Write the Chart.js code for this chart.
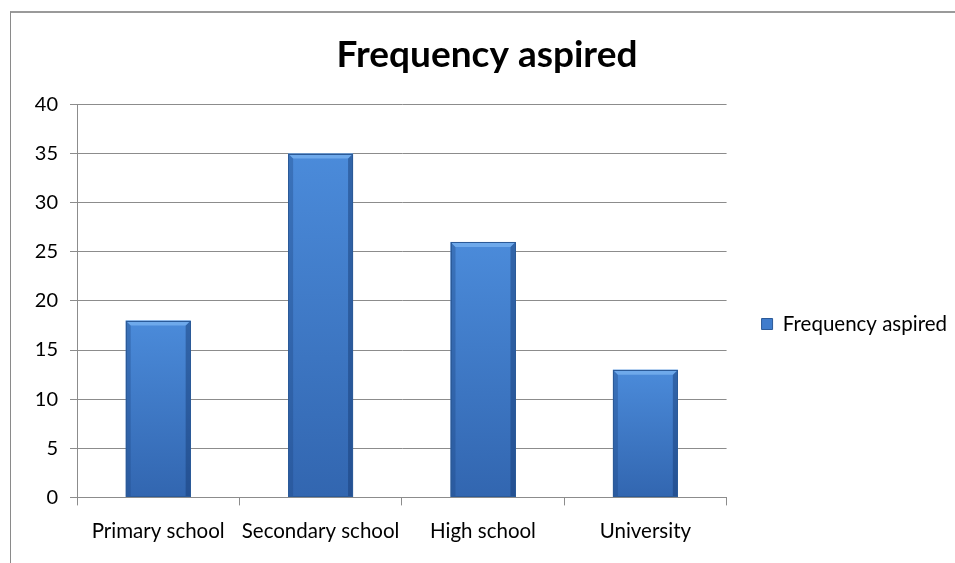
<!DOCTYPE html>
<html>
<head>
<meta charset="utf-8">
<script src="https://cdn.jsdelivr.net/npm/chart.js@4/dist/chart.umd.min.js"></script>
<style>
  html, body { margin: 0; padding: 0; background: #fff; overflow: hidden; }
  #wrap { position: relative; width: 955px; height: 563px; }
  #frame { position: absolute; left: 10px; top: 11px; width: 960px; height: 600px;
           border-left: 1px solid #8a8a8a; border-top: 2px solid #9a9a9a; box-sizing: border-box; }
  canvas { position: absolute; left: 0; top: 0; }
</style>
</head>
<body>
<div id="wrap">
  <div id="frame"></div>
  <canvas id="chart" width="955" height="563"></canvas>
</div>
<script>
const categories = ['Primary school', 'Secondary school', 'High school', 'University'];
const seriesName = 'Frequency aspired';
const values = [18, 35, 26, 13];
const yTicks = [0, 5, 10, 15, 20, 25, 30, 35, 40];

const FONT = 'Lato, "Open Sans", sans-serif';

// Bevelled column look: shading strips drawn over each bar element
const bevelPlugin = {
  id: 'bevel',
  afterDatasetsDraw(chart) {
    const ctx = chart.ctx;
    chart.getDatasetMeta(0).data.forEach(bar => {
      const { x, y, base, width } = bar.getProps(['x', 'y', 'base', 'width'], true);
      const l = x - width / 2, r = x + width / 2, t = y, b = base;
      const e = 5;
      ctx.save();
      // body shading
      const g = ctx.createLinearGradient(0, t, 0, b);
      g.addColorStop(0, '#4b8bda');
      g.addColorStop(1, '#3266b0');
      ctx.fillStyle = g;
      ctx.fillRect(l, t, width, b - t);
      // left edge
      ctx.fillStyle = 'rgba(30,70,130,0.35)';
      ctx.beginPath();
      ctx.moveTo(l, t); ctx.lineTo(l + e, t + e); ctx.lineTo(l + e, b); ctx.lineTo(l, b); ctx.closePath();
      ctx.fill();
      // right edge
      ctx.fillStyle = 'rgba(20,55,110,0.45)';
      ctx.beginPath();
      ctx.moveTo(r, t); ctx.lineTo(r - e, t + e); ctx.lineTo(r - e, b); ctx.lineTo(r, b); ctx.closePath();
      ctx.fill();
      // top edge highlight
      ctx.fillStyle = 'rgba(140,195,250,0.55)';
      ctx.beginPath();
      ctx.moveTo(l, t); ctx.lineTo(r, t); ctx.lineTo(r - e, t + e); ctx.lineTo(l + e, t + e); ctx.closePath();
      ctx.fill();
      // outline
      ctx.strokeStyle = '#2b5a98';
      ctx.lineWidth = 1;
      ctx.strokeRect(Math.round(l) + 0.5, Math.round(t) + 0.5, Math.round(width) - 1, Math.round(b - t) - 1);
      ctx.restore();
    });
  }
};

// The chart frame runs past the view's right and bottom edges: centre the
// title and legend within that frame rather than the visible canvas
const frameBoxesPlugin = {
  id: 'frameBoxes',
  afterLayout(chart) {
    const lg = chart.legend;
    if (lg) {
      lg.top = 12;
      lg.bottom = 636;
      lg.height = lg.bottom - lg.top;
      lg.left += 25;
      lg.right += 25;
    }
    const tb = chart.titleBlock;
    if (tb) {
      tb.left += 16;
      tb.right += 16;
    }
  }
};

new Chart(document.getElementById('chart'), {
  type: 'bar',
  data: {
    labels: categories,
    datasets: [{
      label: seriesName,
      data: values,
      backgroundColor: '#3f7ccc',
      borderColor: '#2b5a98',
      borderWidth: 1,
      barPercentage: 0.4,
      categoryPercentage: 1.0
    }]
  },
  plugins: [bevelPlugin, frameBoxesPlugin],
  options: {
    responsive: false,
    animation: false,
    layout: { padding: { left: 10, top: 12, right: 23, bottom: 5 } },
    plugins: {
      title: {
        display: true,
        text: seriesName,
        color: '#000',
        font: { family: FONT, size: 37, weight: 'bold' },
        padding: { top: 21, bottom: 27 }
      },
      legend: {
        display: true,
        position: 'right',
        align: 'center',
        labels: {
          color: '#000',
          font: { family: FONT, size: 20.5 },
          boxWidth: 11,
          boxHeight: 11,
          padding: 10,
          generateLabels(chart) {
            return [{
              text: seriesName,
              fillStyle: '#3f7ccc',
              strokeStyle: '#2b5a98',
              lineWidth: 1,
              datasetIndex: 0
            }];
          }
        }
      },
      tooltip: { enabled: false }
    },
    scales: {
      x: {
        offset: true,
        grid: { offset: true, drawOnChartArea: false, color: '#8c8c8c', tickLength: 8, tickColor: '#8c8c8c' },
        border: { color: '#8c8c8c' },
        ticks: { color: '#000', font: { family: FONT, size: 20.5 }, padding: 14, maxRotation: 0, minRotation: 0, autoSkip: false }
      },
      y: {
        min: 0,
        max: 40,
        afterBuildTicks(scale) { scale.ticks = yTicks.map(v => ({ value: v })); },
        afterFit(scale) { scale.width = 67; },
        grid: { color: '#8c8c8c', tickLength: 7, tickColor: '#8c8c8c' },
        border: { color: '#8c8c8c' },
        ticks: { color: '#000', font: { family: FONT, size: 20 }, padding: 12 }
      }
    }
  }
});
</script>
</body>
</html>
